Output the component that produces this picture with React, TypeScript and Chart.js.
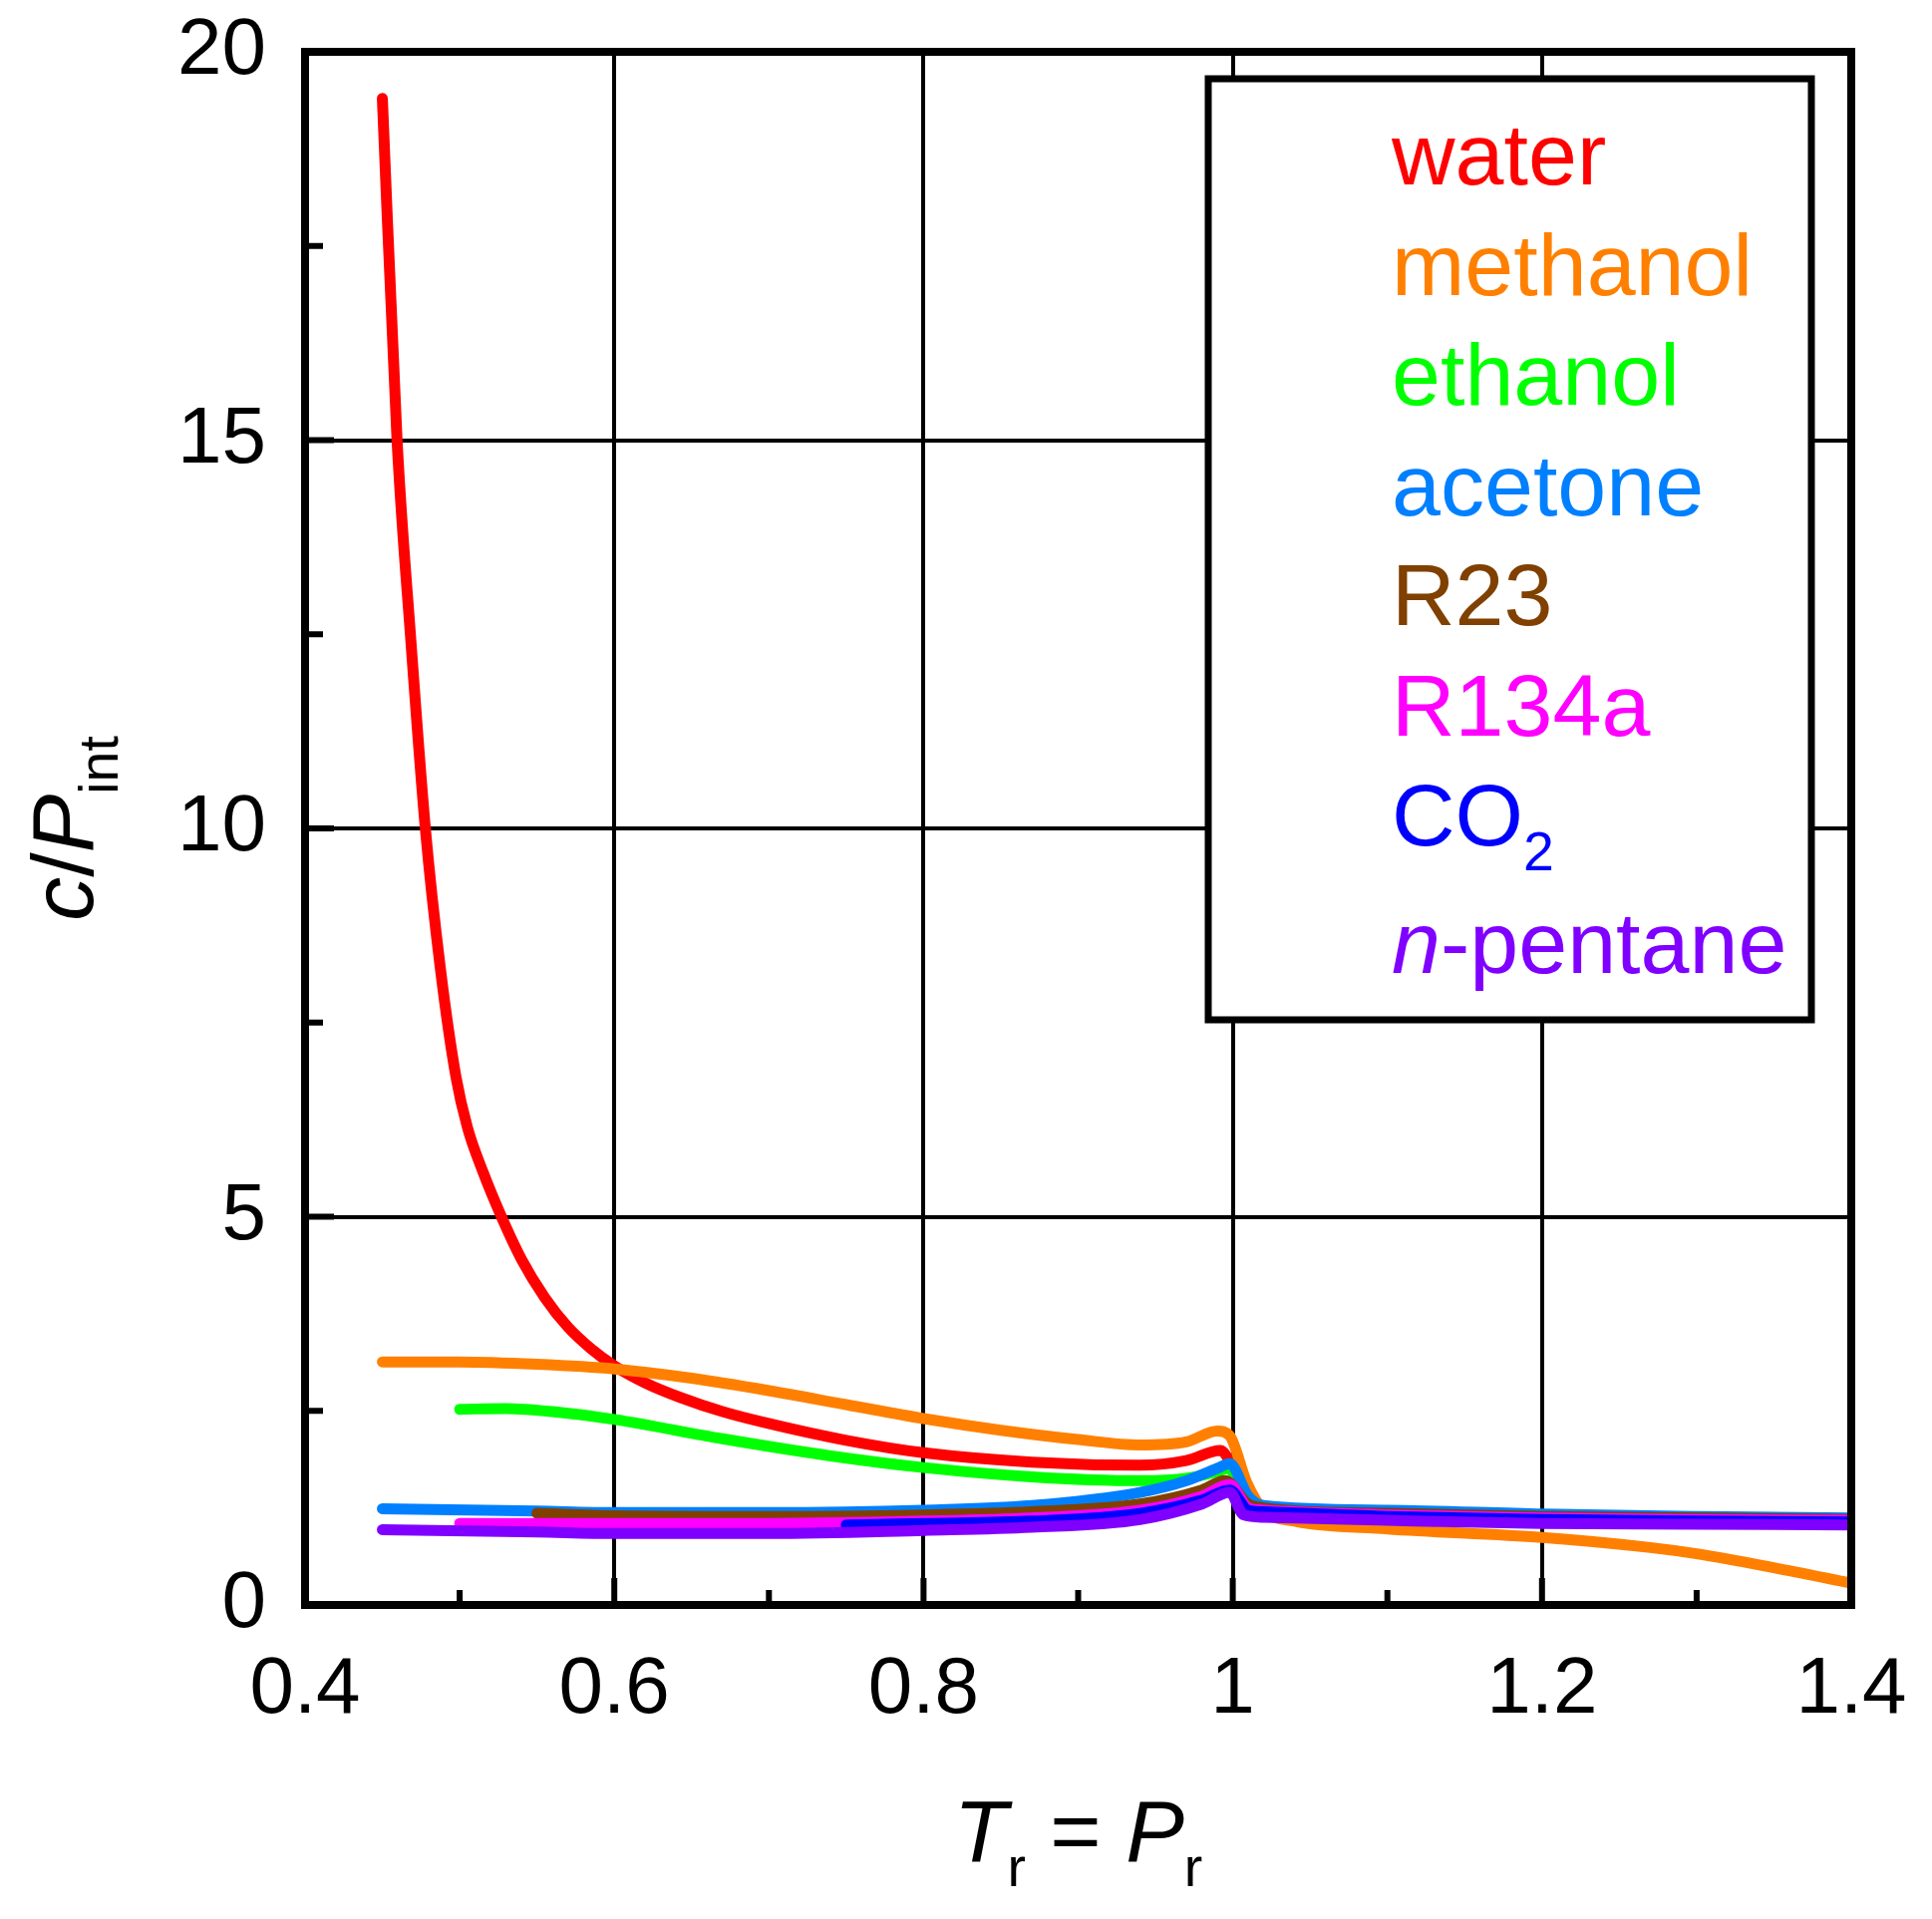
import React, { useEffect, useRef } from 'react';
import { Chart, registerables } from 'chart.js';

Chart.register(...registerables);

type Pt = [number, number];
type Seg = { t: string; i?: boolean; sub?: boolean };

// T_r, c/P_int pairs
const water: Pt[] = [
  [0.45, 19.4], [0.4595, 15.0], [0.4685, 12.4], [0.4778, 10.0], [0.4875, 8.2],
  [0.4976, 6.8], [0.505, 6.15], [0.515, 5.58], [0.527, 5.0], [0.54, 4.45],
  [0.555, 3.96], [0.57, 3.58], [0.585, 3.3], [0.6, 3.08], [0.62, 2.86],
  [0.643, 2.67], [0.67, 2.49], [0.697, 2.35], [0.75, 2.12], [0.8, 1.96],
  [0.87, 1.84], [0.94, 1.8], [0.97, 1.86], [0.992, 1.99], [1.005, 1.55],
  [1.015, 1.28], [1.03, 1.24], [1.1, 1.2], [1.2, 1.16], [1.3, 1.13],
  [1.4, 1.11],
];
const methanol: Pt[] = [
  [0.45, 3.13], [0.5, 3.13], [0.55, 3.1], [0.6, 3.04], [0.65, 2.92],
  [0.7, 2.76], [0.75, 2.58], [0.8, 2.4], [0.85, 2.25], [0.9, 2.13],
  [0.94, 2.06], [0.97, 2.1], [0.99, 2.24], [0.998, 2.18], [1.009, 1.58],
  [1.02, 1.22], [1.04, 1.08], [1.1, 0.98], [1.2, 0.87], [1.27, 0.74],
  [1.3, 0.66], [1.35, 0.48], [1.4, 0.28],
];
const ethanol: Pt[] = [
  [0.5, 2.52], [0.53, 2.53], [0.56, 2.49], [0.6, 2.39], [0.67, 2.14],
  [0.74, 1.92], [0.8, 1.77], [0.87, 1.65], [0.94, 1.6], [0.97, 1.63],
  [0.99, 1.72], [0.997, 1.76], [1.01, 1.32], [1.02, 1.25], [1.1, 1.2],
  [1.2, 1.15], [1.3, 1.12], [1.4, 1.1],
];
const acetone: Pt[] = [
  [0.45, 1.24], [0.55, 1.21], [0.6, 1.19], [0.7, 1.19], [0.8, 1.22],
  [0.87, 1.28], [0.94, 1.45], [0.97, 1.6], [0.99, 1.76], [0.998, 1.82],
  [1.01, 1.4], [1.02, 1.28], [1.1, 1.22], [1.2, 1.17], [1.3, 1.14],
  [1.4, 1.12],
];
const r23: Pt[] = [
  [0.55, 1.18], [0.6, 1.15], [0.7, 1.14], [0.8, 1.16], [0.87, 1.2],
  [0.94, 1.3], [0.98, 1.48], [0.995, 1.6], [1.01, 1.3], [1.02, 1.25],
  [1.1, 1.18], [1.2, 1.14], [1.3, 1.12], [1.4, 1.1],
];
const r134a: Pt[] = [
  [0.5, 1.05], [0.6, 1.05], [0.7, 1.05], [0.8, 1.08], [0.87, 1.12],
  [0.94, 1.22], [0.98, 1.4], [0.998, 1.55], [1.01, 1.25], [1.02, 1.22],
  [1.1, 1.16], [1.2, 1.12], [1.3, 1.1], [1.4, 1.09],
];
const co2: Pt[] = [
  [0.75, 1.03], [0.8, 1.05], [0.87, 1.08], [0.94, 1.18], [0.98, 1.35],
  [0.998, 1.48], [1.01, 1.22], [1.02, 1.2], [1.1, 1.14], [1.2, 1.1],
  [1.3, 1.08], [1.4, 1.07],
];
const pentane: Pt[] = [
  [0.45, 0.97], [0.55, 0.94], [0.6, 0.92], [0.7, 0.92], [0.8, 0.96],
  [0.87, 1.0], [0.94, 1.1], [0.98, 1.3], [0.998, 1.45], [1.007, 1.16],
  [1.02, 1.13], [1.1, 1.09], [1.2, 1.05], [1.3, 1.04], [1.4, 1.03],
];

const seriesNames = ['water', 'methanol', 'ethanol', 'acetone', 'R23', 'R134a', 'CO2', 'n-pentane'];
const seriesData = [water, methanol, ethanol, acetone, r23, r134a, co2, pentane];
const seriesColors = ['#ff0000', '#ff8000', '#00ff00', '#0080ff', '#804000', '#ff00ff', '#0000ff', '#8000ff'];
const legendLabels: Seg[][] = [
  [{ t: 'water' }],
  [{ t: 'methanol' }],
  [{ t: 'ethanol' }],
  [{ t: 'acetone' }],
  [{ t: 'R23' }],
  [{ t: 'R134a' }],
  [{ t: 'CO' }, { t: '2', sub: true }],
  [{ t: 'n', i: true }, { t: '-pentane' }],
];

const xTicks = [0.4, 0.6, 0.8, 1, 1.2, 1.4];
const xTickLabels = ['0.4', '0.6', '0.8', '1', '1.2', '1.4'];
const xMinorTicks = [0.5, 0.7, 0.9, 1.1, 1.3];
const yTicks = [0, 5, 10, 15, 20];
const yTickLabels = ['0', '5', '10', '15', '20'];
const yMinorTicks = [2.5, 7.5, 12.5, 17.5];

const xTitle: Seg[] = [{ t: 'T', i: true }, { t: 'r', sub: true }, { t: ' = ' }, { t: 'P', i: true }, { t: 'r', sub: true }];
const yTitle: Seg[] = [{ t: 'c', i: true }, { t: '/' }, { t: 'P', i: true }, { t: 'int', sub: true }];

const FONT = '"Liberation Sans", Arial, Helvetica, sans-serif';
const W = 1938;
const H = 1925;

function segFont(s: Seg, size: number) {
  const sz = s.sub ? size * 0.63 : size;
  return `${s.i ? 'italic ' : ''}${sz}px ${FONT}`;
}

function richWidth(ctx: CanvasRenderingContext2D, segs: Seg[], size: number) {
  let w = 0;
  for (const s of segs) {
    ctx.font = segFont(s, size);
    w += ctx.measureText(s.t).width;
  }
  return w;
}

function drawRich(ctx: CanvasRenderingContext2D, segs: Seg[], x: number, y: number, size: number) {
  let cx = x;
  ctx.textAlign = 'left';
  ctx.textBaseline = 'alphabetic';
  for (const s of segs) {
    ctx.font = segFont(s, size);
    ctx.fillText(s.t, cx, s.sub ? y + size * 0.285 : y);
    cx += ctx.measureText(s.t).width;
  }
}

const decorPlugin = {
  id: 'decor',
  afterDraw(chart: any) {
    const { ctx, chartArea: a, scales } = chart;
    const xs = scales.x;
    const ys = scales.y;
    ctx.save();

    // inward tick marks
    ctx.strokeStyle = '#000';
    ctx.lineWidth = 6;
    ctx.lineCap = 'butt';
    const tick = (v: number, len: number, axis: 'x' | 'y') => {
      ctx.beginPath();
      if (axis === 'x') {
        const px = xs.getPixelForValue(v);
        ctx.moveTo(px, a.bottom);
        ctx.lineTo(px, a.bottom - len);
      } else {
        const py = ys.getPixelForValue(v);
        ctx.moveTo(a.left, py);
        ctx.lineTo(a.left + len, py);
      }
      ctx.stroke();
    };
    xTicks.forEach((v) => tick(v, 27, 'x'));
    xMinorTicks.forEach((v) => tick(v, 15, 'x'));
    yTicks.forEach((v) => tick(v, 29, 'y'));
    yMinorTicks.forEach((v) => tick(v, 18, 'y'));

    // frame
    ctx.lineWidth = 8;
    ctx.lineJoin = 'miter';
    ctx.strokeRect(a.left, a.top, a.right - a.left, a.bottom - a.top);

    // legend box
    const bx = a.right - 645;
    const by = a.top + 27;
    const bw = 605;
    const bh = 944;
    ctx.fillStyle = '#fff';
    ctx.fillRect(bx, by, bw, bh);
    ctx.lineWidth = 7;
    ctx.strokeRect(bx, by, bw, bh);
    let base = by + 106;
    legendLabels.forEach((segs, i) => {
      ctx.fillStyle = seriesColors[i];
      drawRich(ctx, segs, bx + 184, base, 88);
      base += 110.5;
      if (segs.some((s) => s.sub)) base += 17;
    });

    // axis titles
    ctx.fillStyle = '#000';
    const cxMid = (a.left + a.right) / 2;
    const tw = richWidth(ctx, xTitle, 88);
    drawRich(ctx, xTitle, cxMid - tw / 2, a.bottom + 257, 88);

    const cyMid = (a.top + a.bottom) / 2;
    const yw = richWidth(ctx, yTitle, 88);
    ctx.translate(93, cyMid);
    ctx.rotate(-Math.PI / 2);
    drawRich(ctx, yTitle, -yw / 2, 0, 88);
    ctx.restore();
  },
};

export default function App() {
  const canvasRef = useRef<HTMLCanvasElement | null>(null);

  useEffect(() => {
    if (!canvasRef.current) return;
    const datasets = seriesData.map((pts, i) => ({
      label: seriesNames[i],
      data: pts.map(([x, y]) => ({ x, y })),
      borderColor: seriesColors[i],
      backgroundColor: seriesColors[i],
      borderWidth: 11,
      pointRadius: 0,
      fill: false,
      cubicInterpolationMode: 'monotone' as const,
      borderCapStyle: 'round' as const,
      borderJoinStyle: 'round' as const,
      order: seriesNames.length - i,
    }));

    const tickFont = { family: FONT, size: 80 };

    const chart = new Chart(canvasRef.current, {
      type: 'line',
      data: { datasets },
      options: {
        animation: false,
        responsive: false,
        devicePixelRatio: 1,
        layout: { padding: { top: 52, right: 81, left: 0, bottom: 0 } },
        plugins: { legend: { display: false }, tooltip: { enabled: false } },
        scales: {
          x: {
            type: 'linear',
            min: 0.4,
            max: 1.4,
            afterBuildTicks: (scale: any) => {
              scale.ticks = xTicks.map((v) => ({ value: v }));
            },
            afterFit: (scale: any) => {
              scale.height = 315;
              scale.paddingLeft = 0;
              scale.paddingRight = 0;
              scale.paddingTop = 0;
              scale.paddingBottom = 0;
            },
            ticks: {
              autoSkip: false,
              maxRotation: 0,
              padding: 38,
              color: '#000',
              font: tickFont,
              callback: (_v: any, i: number) => xTickLabels[i],
            },
            grid: { color: '#000', lineWidth: 4, drawTicks: false },
            border: { display: false },
          },
          y: {
            type: 'linear',
            min: 0,
            max: 20,
            afterBuildTicks: (scale: any) => {
              scale.ticks = yTicks.map((v) => ({ value: v }));
            },
            afterFit: (scale: any) => {
              scale.width = 306;
              scale.paddingLeft = 0;
              scale.paddingRight = 0;
              scale.paddingTop = 0;
              scale.paddingBottom = 0;
            },
            ticks: {
              autoSkip: false,
              padding: 39,
              color: '#000',
              font: tickFont,
              callback: (_v: any, i: number) => yTickLabels[i],
            },
            grid: { color: '#000', lineWidth: 4, drawTicks: false },
            border: { display: false },
          },
        },
      },
      plugins: [decorPlugin],
    });
    return () => chart.destroy();
  }, []);

  return (
    <div style={{ position: 'absolute', left: 0, top: 0, width: W, height: H, background: '#fff' }}>
      <canvas ref={canvasRef} width={W} height={H} style={{ display: 'block', width: W, height: H }} />
    </div>
  );
}
